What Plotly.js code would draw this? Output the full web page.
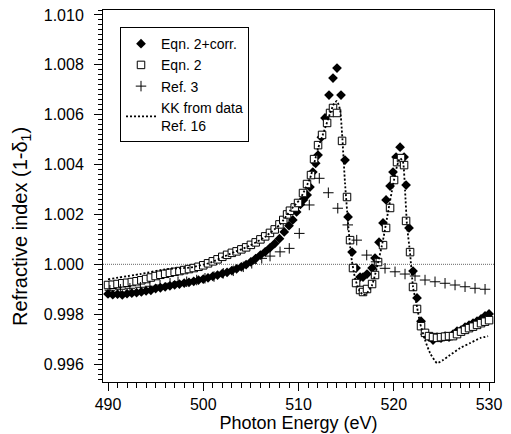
<!DOCTYPE html>
<html>
<head>
<meta charset="utf-8">
<script src="https://cdn.plot.ly/plotly-3.0.1.min.js"></script>
<style>html,body{margin:0;padding:0;background:#fff;}#chart{width:511px;height:434px;}</style>
</head>
<body>
<div id="chart"></div>
<script>
// Eqn. 2+corr. (filled diamonds)
const corrE = [490.0,490.5,491.0,491.5,492.0,492.5,493.0,493.5,494.0,494.5,495.0,495.5,496.0,496.5,497.0,497.5,498.0,498.5,499.0,499.5,500.0,500.5,501.0,501.5,502.0,502.5,503.0,503.5,504.0,504.5,505.0,505.5,506.0,506.5,507.0,507.5,508.0,508.5,509.0,509.4,509.8,510.2,510.5,510.9,511.2,511.5,511.8,512.05,512.4,512.78,513.2,513.62,514.04,514.46,514.88,515.2,515.62,516.04,516.46,516.77,517.19,517.72,518.03,518.45,518.87,519.19,519.61,519.92,520.24,520.66,521.08,521.29,521.6,522.02,522.44,522.86,523.28,523.7,524.12,524.54,524.96,525.38,525.8,526.22,526.64,527.06,527.48,527.9,528.32,528.74,529.16,529.58,530.0];
const corrN = [0.99881,0.99878,0.99880,0.99877,0.99882,0.99884,0.99886,0.99889,0.99893,0.99896,0.99903,0.99906,0.99910,0.99914,0.99918,0.99921,0.99925,0.99928,0.99932,0.99937,0.99941,0.99946,0.99952,0.99957,0.99963,0.99968,0.99975,0.99982,0.99990,0.99999,1.00010,1.00023,1.00037,1.00050,1.00066,1.00083,1.00103,1.00130,1.00155,1.00178,1.00210,1.00240,1.00258,1.00278,1.00310,1.00370,1.00405,1.00438,1.00510,1.00587,1.00679,1.00747,1.00787,1.00679,1.00418,1.00190,1.00049,0.99985,0.99949,0.99949,0.99961,0.99985,1.00025,1.00089,1.00166,1.00258,1.00314,1.00370,1.00430,1.00470,1.00430,1.00318,1.00146,0.99973,0.99865,0.99772,0.99720,0.99708,0.99696,0.99708,0.99704,0.99712,0.99708,0.99720,0.99732,0.99736,0.99748,0.99756,0.99764,0.99772,0.99781,0.99793,0.99801];

// Eqn. 2 (open squares)
const eqE = [490.0,490.5,491.0,491.5,492.0,492.5,493.0,493.5,494.0,494.5,495.0,495.5,496.0,496.5,497.0,497.5,498.0,498.5,499.0,499.5,500.0,500.5,501.0,501.5,502.0,502.5,503.0,503.5,504.0,504.5,505.0,505.5,506.0,506.5,507.0,507.5,508.0,508.4,508.8,509.1,509.6,509.95,510.47,510.89,511.31,511.63,512.05,512.47,513.0,513.31,513.62,514.04,514.57,515.09,515.41,515.72,516.04,516.46,516.77,517.19,517.72,518.03,518.35,518.87,519.19,519.61,520.03,520.34,520.76,521.08,521.29,521.71,522.02,522.44,522.86,523.28,523.7,524.12,524.54,524.96,525.38,525.8,526.22,526.64,527.06,527.48,527.9,528.32,528.74,529.16,529.58,530.0];
const eqN = [0.99917,0.99918,0.99921,0.99924,0.99926,0.99929,0.99932,0.99936,0.99941,0.99947,0.99953,0.99958,0.99962,0.99966,0.99970,0.99973,0.99977,0.99981,0.99985,0.99990,0.99996,1.00004,1.00012,1.00020,1.00030,1.00038,1.00046,1.00052,1.00060,1.00068,1.00078,1.00088,1.00100,1.00112,1.00126,1.00140,1.00160,1.00178,1.00200,1.00215,1.00228,1.00246,1.00286,1.00322,1.00358,1.00422,1.00478,1.00519,1.00567,1.00607,1.00627,1.00607,1.00495,1.00270,1.00097,0.99985,0.99925,0.99897,0.99889,0.99901,0.99921,0.99957,1.00009,1.00077,1.00146,1.00226,1.00338,1.00410,1.00426,1.00398,1.00174,1.00049,0.99909,0.99821,0.99752,0.99725,0.99712,0.99708,0.99705,0.99708,0.99710,0.99712,0.99712,0.99720,0.99730,0.99737,0.99744,0.99750,0.99757,0.99764,0.99770,0.99776];

// Ref. 3 (crosses)
const refE = [490.2,491.3,492.3,493.4,494.4,495.46,496.51,497.35,498.26,499.31,500.18,501.13,502.10,503.15,504.20,505.09,506.14,507.01,508.06,509.03,510.08,511.13,512.18,513.13,514.12,515.17,516.11,517.16,518.14,519.08,520.13,521.18,522.23,523.28,524.33,525.38,526.43,527.48,528.53,529.58];
const refN = [0.99896,0.99900,0.99904,0.99908,0.99912,0.99917,0.99924,0.99930,0.99930,0.99937,0.99944,0.99951,0.99964,0.99974,0.99990,1.00004,1.00024,1.00033,1.00050,1.00064,1.00124,1.00238,1.00345,1.00287,1.00225,1.00158,1.00097,1.00037,1.00010,0.99984,0.99970,0.99961,0.99953,0.99937,0.99930,0.99924,0.99917,0.99910,0.99904,0.99900];

// KK from data, Ref. 16 (dotted line)
const kkE = [490.0,493.36,496.19,498.61,500.71,502.81,504.91,506.48,508.06,509.11,510.16,511.21,512.05,512.78,513.31,513.73,514.04,514.36,514.57,514.88,515.2,515.51,515.93,516.35,516.77,517.19,517.72,518.24,518.87,519.4,519.92,520.34,520.66,520.97,521.18,521.39,521.71,522.02,522.44,522.76,523.28,523.81,524.54,525.17,525.91,526.96,528.01,529.06,529.9];
const kkN = [0.99940,0.99961,0.99981,0.99987,1.00006,1.00042,1.00075,1.00110,1.00160,1.00215,1.00262,1.00345,1.00465,1.00545,1.00605,1.00645,1.00655,1.00620,1.00525,1.00326,1.00166,1.00037,0.99945,0.99897,0.99877,0.99885,0.99917,0.99989,1.00097,1.00210,1.00318,1.00394,1.00426,1.00410,1.00298,1.00154,1.00045,0.99909,0.99829,0.99764,0.99696,0.99644,0.99604,0.99616,0.99636,0.99664,0.99684,0.99704,0.99712];

const xTickVals = [490,500,510,520,530];
const yTickVals = [0.996,0.998,1.000,1.002,1.004,1.006,1.008,1.010];
const names = ['Eqn. 2+corr.','Eqn. 2','Ref. 3','KK from data<br>Ref. 16'];
const xTitle = 'Photon Energy (eV)';
const yTitle = 'Refractive index (1-δ<sub>1</sub>)';

const FONT = 'Liberation Sans, Arial, Helvetica, sans-serif';

const traces = [
  {x: corrE, y: corrN, name: names[0], type: 'scatter', mode: 'markers',
   marker: {symbol: 'diamond', size: 7.5, color: '#000', line: {width: 0}}},
  {x: eqE, y: eqN, name: names[1], type: 'scatter', mode: 'markers',
   marker: {symbol: 'square', size: 7.5, color: '#fff', line: {width: 1, color: '#000'}}},
  {x: refE, y: refN, name: names[2], type: 'scatter', mode: 'markers',
   marker: {symbol: 'cross-thin', size: 7.5, color: '#000', line: {width: 1, color: '#000'}}},
  {x: kkE, y: kkN, name: names[3], type: 'scatter', mode: 'lines',
   line: {color: '#000', width: 1.8, dash: '2px,2px', shape: 'spline', smoothing: 0.5}}
];

const layout = {
  width: 511, height: 434,
  margin: {l: 103, r: 17, t: 10, b: 52},
  paper_bgcolor: '#fff', plot_bgcolor: '#fff',
  font: {family: FONT, color: '#000', size: 14},
  showlegend: true,
  legend: {x: 0.0435, y: 0.954, xanchor: 'left', yanchor: 'top',
    bgcolor: '#fff', bordercolor: '#000', borderwidth: 1,
    font: {family: FONT, size: 14, color: '#000'}, tracegroupgap: 0},
  xaxis: {
    range: [489.475, 530.52], tickvals: xTickVals, ticktext: xTickVals.map(String),
    ticks: 'outside', ticklen: 8, tickwidth: 1, tickcolor: '#000',
    showline: true, linecolor: '#000', linewidth: 1, mirror: true,
    showgrid: false, zeroline: false,
    tickfont: {family: FONT, size: 16, color: '#000'},
    minor: {dtick: 1, tick0: 490, ticks: 'outside', ticklen: 5, tickcolor: '#000', tickwidth: 1, showgrid: false},
    title: {text: xTitle, font: {family: FONT, size: 18, color: '#000'}, standoff: 2}
  },
  yaxis: {
    range: [0.99528, 1.0102], tickvals: yTickVals, ticktext: yTickVals.map(v => v.toFixed(3)),
    ticks: 'outside', ticklen: 8, tickwidth: 1, tickcolor: '#000',
    showline: true, linecolor: '#000', linewidth: 1, mirror: true,
    showgrid: false, zeroline: false, ticklabelstandoff: 7,
    tickfont: {family: FONT, size: 16, color: '#000'},
    minor: {dtick: 0.0002, tick0: 0.996, ticks: 'outside', ticklen: 4, tickcolor: '#000', tickwidth: 1, showgrid: false}
  },
  annotations: [
    {text: yTitle, textangle: -90, xref: 'paper', yref: 'paper', x: -0.207, y: 0.417,
     xanchor: 'center', yanchor: 'middle', showarrow: false,
     font: {family: FONT, size: 20, color: '#000'}}
  ],
  shapes: [
    {type: 'line', xref: 'paper', x0: 0, x1: 1, yref: 'y', y0: 1.000, y1: 1.000,
     line: {color: '#666', width: 1, dash: '1px,1px'}, layer: 'below'}
  ]
};

Plotly.newPlot('chart', traces, layout, {displayModeBar: false, staticPlot: true});
</script>
</body>
</html>
